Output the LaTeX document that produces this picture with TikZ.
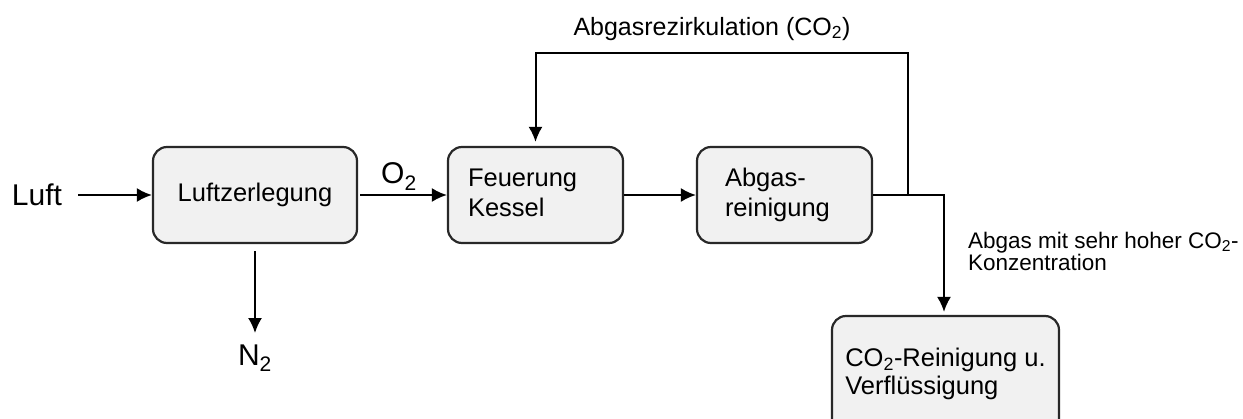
\documentclass[tikz,border=0pt]{standalone}
\usepackage{fontspec}
\setmainfont{Liberation Sans}
\usetikzlibrary{arrows.meta,positioning,calc}
\definecolor{boxfill}{RGB}{241,241,241}
\definecolor{boxline}{RGB}{40,40,40}
\tikzset{
block/.style = {draw=boxline, fill=boxfill, rectangle, rounded corners=14pt, line width=2.2pt, minimum height=96pt, font=\fontsize{25.5}{30}\selectfont},
leftblock/.style = {block, align=left},
tmp/.style  = {coordinate},
big/.style = {font=\fontsize{30}{36}\selectfont},
note/.style = {font=\fontsize{22.5}{19}\selectfont, align=left}
}
\begin{document}
\begin{tikzpicture}[auto, x=1pt, y=-1pt, line width=2pt, >={Latex[length=15pt,width=14pt]}]
  \useasboundingbox (0,0) rectangle (1243,418);
  \node [big, inner xsep=15pt]                                   (luft)    at (37,195)     {Luft};
  \node [block, minimum width=204pt]                             (zerl)    at (255,195)    {Luftzerlegung};
  \node [leftblock, text width=135pt, inner xsep=20pt]           (kessel)  at (535.5,195)  {Feuerung\\Kessel\vphantom{g}};
  \node [leftblock, text width=119pt, inner xsep=28pt]           (reinig)  at (784.5,195)  {Abgas-\\reinigung};
  \node [leftblock, minimum width=227pt, minimum height=116pt,
         font=\fontsize{25.5}{28}\selectfont]                    (verfl)   at (945.5,374)  {CO\textsubscript{2}-Reinigung u.\\Verflüssigung};
  \node [big, anchor=base]                                       (n2)      at (255,365)    {N\textsubscript{2}};
  \node [font=\fontsize{25}{30}\selectfont, anchor=base]         (rezlbl)  at (712,35)     {Abgasrezirkulation (CO\textsubscript{2})};
  \node [note, anchor=base west, inner xsep=0pt]                 (notelbl) at (967,270)    {Abgas mit sehr hoher CO\textsubscript{2}-\\Konzentration};
  \node [tmp]                                                    (split)   at (908,195)    {};
  \node [tmp]                                                    (rez)     at (908,53)     {};
  \node [tmp]                                                    (bend)    at (944,195)    {};

  \draw [->] (luft) -- (zerl);
  \draw [->, shorten <=2pt] (zerl) -- node [big, above, pos=0.46, inner sep=4pt] (o2) {O\textsubscript{2}} (kessel);
  \draw [->, shorten <=7pt, shorten >=7pt] (zerl.south) -- (zerl.south |- n2.north);
  \draw [->] (kessel) -- (reinig);
  \draw [->, shorten >=4pt] (split) -- (rez) -| (kessel);
  \draw [->, shorten >=3pt] (reinig) -- (bend) -- (bend |- verfl.north);
\end{tikzpicture}
\end{document}
